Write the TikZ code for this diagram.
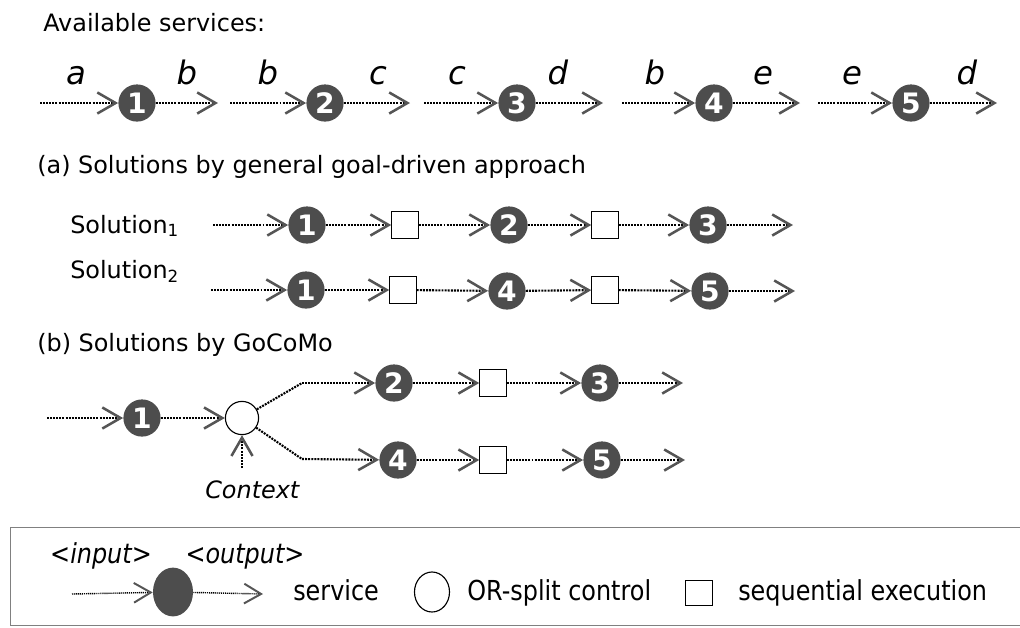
\documentclass[tikz,border=0pt]{standalone}
\usepackage{fontspec}
\setmainfont{DejaVu Sans}
\usetikzlibrary{shapes.geometric,arrows.meta,positioning}
\definecolor{svcgray}{HTML}{4D4D4D}
\definecolor{tipgray}{HTML}{555555}

\begin{document}
\begin{tikzpicture}[x=0.025cm, y=-0.025cm]
    \tikzset{
        svc/.style      =   { circle
                            , fill=svcgray
                            , text=white
                            , inner sep=0pt
                            , minimum size=0.93cm
                            , font=\fontsize{20}{20}\selectfont\bfseries
        }
        , seq/.style    =   { rectangle
                            , draw=black
                            , line width=0.8pt
                            , inner sep=0pt
                            , minimum size=0.66cm
        }
        , split/.style  =   { circle
                            , draw=black
                            , line width=0.8pt
                            , inner sep=0pt
                            , minimum size=0.83cm
        }
        , txt/.style    =   { inner sep=0pt
                            , anchor=base west
                            , font=\fontsize{17}{20}\selectfont
        }
        , io/.style     =   { inner sep=0pt
                            , anchor=base
                            , font=\fontsize{23}{26}\selectfont\itshape
        }
        , link/.style   =   { line width=1.5pt
                            , dash pattern=on 1.4pt off 0.8pt
        }
        , flow/.style   =   { link
                            , -{Straight Barb[length=13pt, width=15pt, line width=1.8pt, color=tipgray]}
        }
        , thin/.style   =   { line width=1pt
                            , dash pattern=on 0.8pt off 0.6pt
                            , -{Straight Barb[length=12pt, width=14pt, line width=1.4pt, color=tipgray]}
        }
    }
    \useasboundingbox (0,0) rectangle (1020,627);

    % available services
    \node(title)[txt] at (43,31) {Available services:};

    \node(s1)[svc] at (137,103) {1};
    \node(s2)[svc] at (325,103) {2};
    \node(s3)[svc] at (517,103) {3};
    \node(s4)[svc] at (714,103) {4};
    \node(s5)[svc] at (911,103) {5};
    \coordinate(s1i) at (40,103);  \coordinate(s1o) at (218,103);
    \coordinate(s2i) at (230,103); \coordinate(s2o) at (410,103);
    \coordinate(s3i) at (424,103); \coordinate(s3o) at (603,103);
    \coordinate(s4i) at (622,103); \coordinate(s4o) at (800,103);
    \coordinate(s5i) at (818,103); \coordinate(s5o) at (997,103);

    \node(s1a)[io] at (76,84)  {a};
    \node(s1b)[io] at (187,84) {b};
    \node(s2a)[io] at (268,84) {b};
    \node(s2b)[io] at (378,84) {c};
    \node(s3a)[io] at (457,84) {c};
    \node(s3b)[io] at (558,84) {d};
    \node(s4a)[io] at (655,84) {b};
    \node(s4b)[io] at (763,84) {e};
    \node(s5a)[io] at (852,84) {e};
    \node(s5b)[io] at (967,84) {d};

    \draw[flow] (s1i) -- (s1);
    \draw[flow] (s1)  -- (s1o);
    \draw[flow] (s2i) -- (s2);
    \draw[flow] (s2)  -- (s2o);
    \draw[flow] (s3i) -- (s3);
    \draw[flow] (s3)  -- (s3o);
    \draw[flow] (s4i) -- (s4);
    \draw[flow] (s4)  -- (s4o);
    \draw[flow] (s5i) -- (s5);
    \draw[flow] (s5)  -- (s5o);

    % (a) goal-driven
    \node(ha)[txt] at (37,173) {(a) Solutions by general goal-driven approach};
    \node(sol1)[txt] at (70,233) {Solution\textsubscript{1}};
    \node(sol2)[txt] at (70,278) {Solution\textsubscript{2}};

    \coordinate(p0) at (213,225);
    \node(p1)[svc] at (307,225) {1};
    \node(q1)[seq] at (405,225) {};
    \node(p2)[svc] at (509,225) {2};
    \node(q2)[seq] at (605,225) {};
    \node(p3)[svc] at (708,225) {3};
    \coordinate(pe) at (793,225);

    \coordinate(r0) at (211,290);
    \node(r1)[svc] at (306,290) {1};
    \node(t1)[seq] at (403,290) {};
    \node(r4)[svc] at (507,291) {4};
    \node(t2)[seq] at (605,290) {};
    \node(r5)[svc] at (710,291) {5};
    \coordinate(re) at (795,291);

    \draw[flow] (p0) -- (p1);
    \draw[flow] (p1) -- (q1);
    \draw[flow] (q1) -- (p2);
    \draw[flow] (p2) -- (q2);
    \draw[flow] (q2) -- (p3);
    \draw[flow] (p3) -- (pe);
    \draw[flow] (r0) -- (r1);
    \draw[flow] (r1) -- (t1);
    \draw[flow] (t1) -- (r4);
    \draw[flow] (r4) -- (t2);
    \draw[flow] (t2) -- (r5);
    \draw[flow] (r5) -- (re);

    % (b) GoCoMo
    \node(hb)[txt] at (37,351) {(b) Solutions by GoCoMo};

    \coordinate(g0) at (47,418);
    \node(g1)[svc] at (142,418) {1};
    \node(or)[split] at (242,418) {};
    \coordinate(up) at (302,383);
    \coordinate(dn) at (302,459);
    \node(g2)[svc] at (394,383) {2};
    \node(gq1)[seq] at (493,383) {};
    \node(g3)[svc] at (600,383) {3};
    \coordinate(g3e) at (683,383);
    \node(g4)[svc] at (398,460) {4};
    \node(gq2)[seq] at (493,460) {};
    \node(g5)[svc] at (602,460) {5};
    \coordinate(g5e) at (685,460);
    \coordinate(ctx) at (242,468);
    \node(ctxt)[txt, font=\fontsize{17}{20}\selectfont\itshape] at (205,498) {Context};

    \draw[flow] (g0)  -- (g1);
    \draw[flow] (g1)  -- (or);
    \draw[flow] (ctx) -- (or);
    \draw[link] (or)  -- (up);
    \draw[flow] (up)  -- (g2);
    \draw[flow] (g2)  -- (gq1);
    \draw[flow] (gq1) -- (g3);
    \draw[flow] (g3)  -- (g3e);
    \draw[link] (or)  -- (dn);
    \draw[flow] (dn)  -- (g4);
    \draw[flow] (g4)  -- (gq2);
    \draw[flow] (gq2) -- (g5);
    \draw[flow] (g5)  -- (g5e);

    % legend
    \draw[gray, line width=0.6pt] (1021,527) -- (10,527) -- (10,625) -- (1021,625);
    \coordinate(l0) at (72,594);
    \node(lsvc)[ellipse, fill=svcgray, inner sep=0pt, minimum width=1cm, minimum height=1.22cm] at (173,592) {};
    \coordinate(le) at (263,594);
    \node(lin)[txt, anchor=base, font=\fontsize{17}{20}\selectfont\itshape] at (101,563) {\scalebox{1}[1.15]{<input>}};
    \node(lout)[txt, anchor=base, font=\fontsize{17}{20}\selectfont\itshape] at (245,563) {\scalebox{1}[1.15]{<output>}};
    \node(lsvct)[txt] at (293,600) {\scalebox{1}[1.15]{service}};
    \node(lor)[ellipse, draw=black, line width=0.8pt, inner sep=0pt, minimum width=0.875cm, minimum height=1cm] at (432,592) {};
    \node(lort)[txt] at (467,600) {\scalebox{1}[1.15]{OR-split control}};
    \node(lseq)[seq, minimum width=0.67cm, minimum height=0.64cm] at (699,593) {};
    \node(lseqt)[txt] at (738,600) {\scalebox{1}[1.15]{sequential execution}};

    \draw[thin] (l0)   -- (lsvc);
    \draw[thin] (lsvc) -- (le);
\end{tikzpicture}
\end{document}
